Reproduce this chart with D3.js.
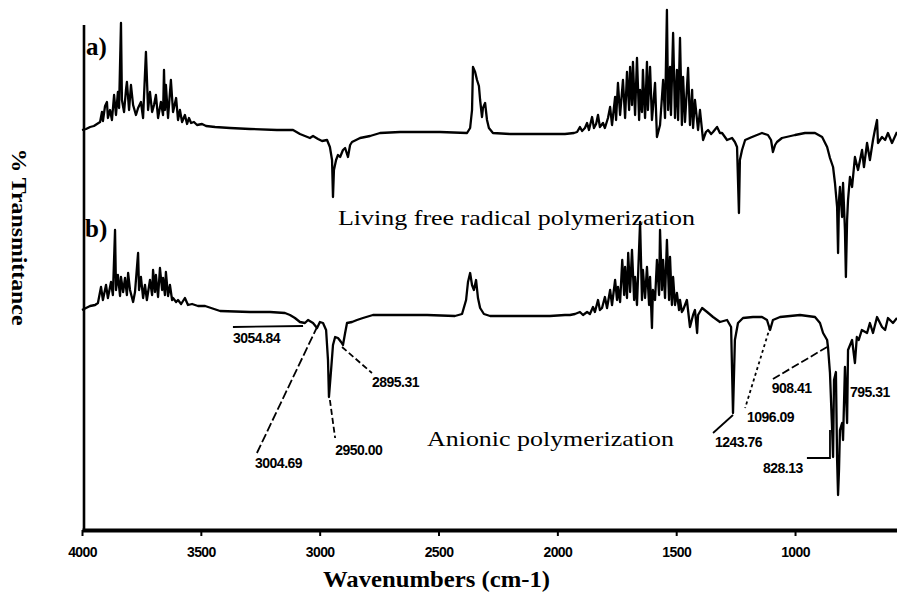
<!DOCTYPE html>
<html>
<head>
<meta charset="utf-8">
<script src="https://cdn.jsdelivr.net/npm/d3@7"></script>
<style>
  html, body { margin: 0; padding: 0; background: #fff; }
  svg { display: block; }
</style>
</head>
<body>
<svg id="chart" width="897" height="594"></svg>
<script>
// ---------------- DATA ----------------
const tickValues = [4000, 3500, 3000, 2500, 2000, 1500, 1000];
const tickLabels = ["4000", "3500", "3000", "2500", "2000", "1500", "1000"];
const xTitle = "Wavenumbers (cm-1)";
const yTitle = "% Transmittance";
const panelLabels = ["a)", "b)"];
const seriesNames = ["Living free radical polymerization", "Anionic polymerization"];

// a) living free radical polymerization
const waveA = [4000,3983,3966,3950,3937,3924,3916,3912,3903,3895,3891,3882,3874,3865,3857,3849,3844,3836,3832,3823,3815,3811,3802,3794,3785,3773,3764,3752,3743,3731,3722,3714,3705,3697,3689,3680,3668,3659,3655,3651,3647,3638,3626,3617,3604,3596,3588,3579,3567,3558,3550,3541,3529,3516,3495,3478,3440,3377,3293,3180,3125,3112,3083,3062,3041,3028,3007,2990,2969,2957,2948,2944,2940,2931,2923,2914,2902,2893,2881,2872,2864,2847,2830,2788,2746,2662,2494,2380,2367,2359,2355,2346,2338,2330,2325,2317,2313,2304,2296,2288,2271,2199,2073,1968,1930,
  1917,1905,1896,1884,1875,1867,1854,1846,1837,1829,1821,1808,1800,1787,1778,1770,1757,1753,1745,1736,1724,1715,1707,1698,1694,1686,1682,1673,1665,1656,1652,1644,1640,1631,1623,1619,1610,1602,1589,1581,1568,1555,1547,1539,1534,1526,1522,1513,1505,1497,1492,1484,1476,1471,1463,1450,1442,1433,1429,1421,1408,1400,1387,1375,1366,1353,1345,1328,1316,
  1307,1286,1265,1253,1244,1236,1232,1223,1210,1181,1139,1114,1101,1093,1084,1076,1055,1000,958,916,886,865,853,840,832,823,819,815,811,802,798,790,786,781,777,769,760,748,735,718,710,697,685,672,664,655,651,634,621,609,592,571];
const transA = [80,80.2,80.6,80.8,81.2,81.6,83.6,81.8,84.8,85.6,82.4,84,82,87,83,87.6,84.4,101.4,86,83.6,88,89.6,84,89,85,83,84.4,85.6,82.4,95.6,84,87.6,83.6,85,87,82.4,85.6,83,92,84,89,82.4,90,83.6,86.4,82,84,81.6,83,81.2,82.4,81.4,81.6,81,81.2,80.8,80.6,80.4,80.2,80,80,80,79.2,78.8,78.4,78.8,78.2,77.8,78,76.6,74,66.6,72,74,75,74.6,76,76.4,74.6,77,77.6,78,78.4,78.8,79.4,79.6,79.6,79.4,80.4,84,92.6,91.6,90,88.8,86,82.6,84.4,85.4,82,80.4,79.4,79.2,79.2,79.2,79.4,
  79.6,80.6,79.8,80.4,81.4,80,82.6,80.4,81.2,83,80.6,81.4,80.4,82.4,84.6,81,86.6,82,89.4,83,90,82.4,91.6,84,92.6,85,93.6,83,94.4,82,88,83.6,92,82.4,93.6,84,92.6,82,89.4,78.6,81,90,82.4,104,84,92.6,83,99.4,82.4,92,82,98.4,81,90.6,81.6,92.4,81,88,80.4,86,80,84,78,79.6,80,79.2,79.6,80.6,79.4,
  79.4,78,78.4,77.6,76.6,63.4,74,76,78,78.6,79.4,79,78,75.6,77,77.6,78.4,79,79.4,79.4,78.6,76.6,74.4,72.6,69.4,64.6,55.4,66,68.6,62.6,69.4,60,50.6,62,66,70.6,68.6,74.6,72,76,72.6,77.4,74,78,80,82,77.4,78.6,78,79.4,77.4,79.6];

// b) anionic polymerization
const waveB = [4000,3983,3966,3945,3933,3920,3912,3899,3891,3878,3870,3861,3857,3849,3840,3836,3827,3819,3811,3806,3798,3785,3777,3764,3760,3752,3743,3735,3727,3714,3705,3701,3693,3689,3680,3672,3663,3659,3651,3647,3638,3630,3621,3617,3604,3596,3583,3567,3554,3537,3512,3482,3419,3293,3209,3146,3125,3104,3083,3062,3049,3028,3011,2999,2986,2973,2965,2961,2952,2944,2935,2923,2910,2902,2893,2885,2864,2843,2818,2776,2717,2548,2431,2401,2384,2376,2367,2359,2351,2342,2334,2325,2309,2283,2157,2031,1968,
  1947,1926,1905,1892,1875,1863,1850,1842,1829,1821,1812,1800,1791,1778,1770,1757,1749,1745,1736,1727,1719,1715,1707,1702,1694,1686,1677,1673,1665,1652,1644,1640,1631,1623,1614,1610,1602,1598,1589,1581,1572,1568,1560,1555,1547,1539,1530,1526,1518,1513,1505,1497,1488,1484,1476,1471,1463,1455,1442,1429,1421,1412,1408,1391,1370,1345,1316,1286,1269,1261,1253,1240,1219,1177,1139,1118,1105,1093,1063,979,916,895,882,865,861,853,844,840,836,828,823,819,815,811,802,798,790,781,777,760,748,740,732,719,697,685,672,655,634,621,609,588,571];
const transB = [44,44.4,44.8,45,45.4,48.6,46,49,46.4,49.6,47,60,48,51,46.8,50.6,47.6,50.4,47,51.4,48,45.6,47.6,55.4,48,50.6,46.4,49,46,50,47,52,47.6,51,46.6,52.4,48,50.4,47,51.6,46.8,49,46,46.4,45.6,46,45.2,46.4,45,45.2,44.8,44.8,43.8,43.6,43.6,43.4,43,42.4,41.6,41.4,42,41.4,40.4,41.6,41.4,40,34,26.6,32,37,38.6,38.4,37.6,37,39.4,41.4,41.6,42,42.4,43,43,43,42.8,43.2,46,49.6,51.4,49,48,50,46.4,44.4,43.2,42.8,42.8,42.8,43,
  43,43.2,43.6,43,43.6,43.2,44.6,43.6,46,44,44.4,46.6,44.4,48,45,50,46,48.6,45.6,54,47,52.6,46.4,55.4,47.6,56,46,50.6,45,61.6,46,52,46.4,52.6,45,50.6,40.4,48,46,54,47,60,48,54,46.4,58,46,54.6,45,50.6,45,47.4,44,46,43.6,44,45,46,40.6,43,44,39.4,43,44.4,43.6,42.6,41.6,42,40.6,23.4,38,41.4,42.4,42.6,42.6,42,40,42,42.6,43,42.6,41.4,39.4,38,36.4,31.4,20,14.6,30,31.6,14,7,12,20,21.4,18,32.6,21.4,36,38,33.4,38.6,38,40,39.4,41.4,39.4,42.6,40.6,40,42.4,41.4,42.4];

// peak annotations of spectrum b (wavenumber / %T of leader lines and label text)
const peakLabels  = ["3054.84", "3004.69", "2950.00", "2895.31", "1243.76", "1096.09", "908.41", "795.31", "828.13"];
const peakLeaderW = [[3365, 3070], [3264, 3011], [2957, 2935], [2906, 2780], [1261, 1345], [1105, 1210], [865, 1093], [], [853, 853, 950]];
const peakLeaderT = [[40.6, 40.8], [15.4, 40.6], [26, 18.4], [36.6, 31.4], [23, 19.4], [40.6, 24.4], [36.6, 30.2], [], [20, 14.4, 14.4]];
const peakTextW   = [3365, 3272, 2935, 2780, 1337, 1202, 1098, 769, 1135];
const peakTextT   = [37.4, 12.4, 15, 28.6, 16.6, 21.6, 27.4, 26.6, 11.4];

// ---------------- CHART ----------------
const svg = d3.select("#chart");
const x = d3.scaleLinear().domain([4000, 571]).range([82, 897]);
const y = d3.scaleLinear().domain([0, 100]).range([530, 30]);

const serif = "'Liberation Serif','DejaVu Serif',serif";
const sans = "'Liberation Sans',Arial,sans-serif";

// y axis line (no ticks)
svg.append("line")
  .attr("x1", 84).attr("x2", 84)
  .attr("y1", 25).attr("y2", 531)
  .attr("stroke", "#000").attr("stroke-width", 2.6);

// x axis
const xAxis = d3.axisBottom(x)
  .tickValues(tickValues)
  .tickFormat((d, i) => tickLabels[i])
  .tickSize(6)
  .tickSizeOuter(0)
  .tickPadding(11);
const gx = svg.append("g").attr("transform", "translate(0,530)").call(xAxis);
gx.select(".domain").attr("stroke", "#000").attr("stroke-width", 4);
gx.selectAll(".tick line").attr("stroke", "#000").attr("stroke-width", 2);
gx.selectAll(".tick text")
  .attr("font-family", sans).attr("font-weight", "bold")
  .attr("font-size", 14).attr("fill", "#000")
  .attr("letter-spacing", "-0.6");

// spectra
const line = d3.line().x(d => x(d[0])).y(d => y(d[1])).curve(d3.curveLinear);
const dataA = waveA.map((w, i) => [w, transA[i]]);
const dataB = waveB.map((w, i) => [w, transB[i]]);
[dataA, dataB].forEach(dat => {
  svg.append("path").datum(dat)
    .attr("d", line)
    .attr("fill", "none")
    .attr("stroke", "#000")
    .attr("stroke-width", 2.3)
    .attr("stroke-linejoin", "round");
});

// annotations
const leaderDash = [null, "9,3", "6,3", "6,3", null, "3,3", "8,3", null, null];
peakLabels.forEach((lab, i) => {
  const pts = peakLeaderW[i].map((w, j) => [x(w), y(peakLeaderT[i][j])]);
  if (pts.length) {
    svg.append("path")
      .attr("d", d3.line()(pts))
      .attr("fill", "none").attr("stroke", "#000")
      .attr("stroke-width", 1.8)
      .attr("stroke-dasharray", leaderDash[i]);
  }
  svg.append("text")
    .attr("x", x(peakTextW[i])).attr("y", y(peakTextT[i]))
    .attr("font-family", sans).attr("font-weight", "bold")
    .attr("font-size", 14).attr("letter-spacing", "-0.5")
    .attr("fill", "#000")
    .text(lab);
});

// panel labels
svg.append("text").attr("x", 86).attr("y", 55)
  .attr("font-family", serif).attr("font-weight", "bold").attr("font-size", 25)
  .text(panelLabels[0]);
svg.append("text").attr("x", 85).attr("y", 237)
  .attr("font-family", serif).attr("font-weight", "bold").attr("font-size", 25)
  .text(panelLabels[1]);

// series names
svg.append("text").attr("x", 338).attr("y", 225)
  .attr("font-family", serif).attr("font-size", 22)
  .attr("textLength", 357).attr("lengthAdjust", "spacingAndGlyphs")
  .text(seriesNames[0]);
svg.append("text").attr("x", 427).attr("y", 446)
  .attr("font-family", serif).attr("font-size", 22)
  .attr("textLength", 247).attr("lengthAdjust", "spacingAndGlyphs")
  .text(seriesNames[1]);

// axis titles
svg.append("text")
  .attr("x", 323).attr("y", 587)
  .attr("font-family", serif).attr("font-weight", "bold").attr("font-size", 24)
  .attr("textLength", 227).attr("lengthAdjust", "spacingAndGlyphs")
  .text(xTitle);
svg.append("text")
  .attr("transform", "translate(12,237) rotate(90)")
  .attr("text-anchor", "middle")
  .attr("font-family", serif).attr("font-weight", "bold").attr("font-size", 20)
  .attr("textLength", 177).attr("lengthAdjust", "spacingAndGlyphs")
  .text(yTitle);
</script>
</body>
</html>
